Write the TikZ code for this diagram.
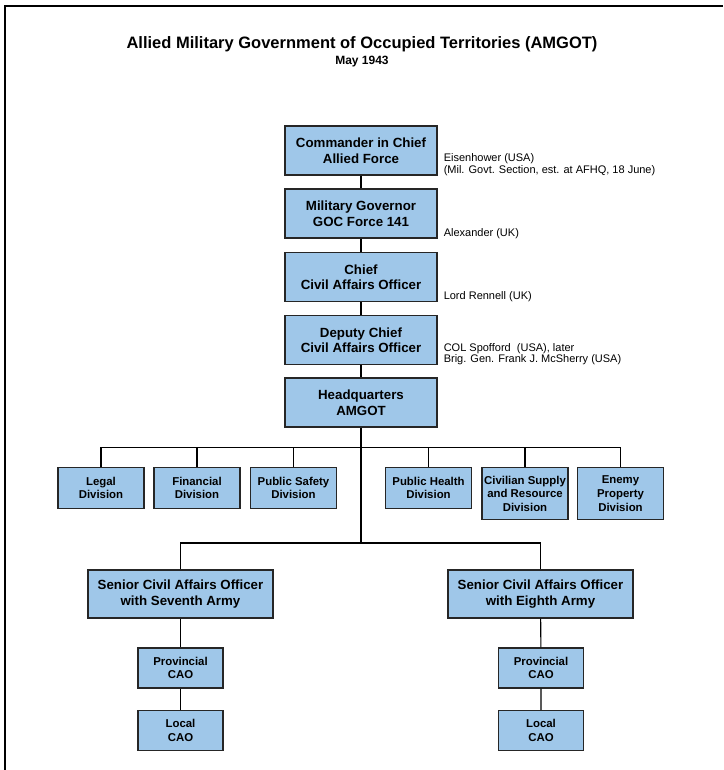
\documentclass[tikz,border=0pt]{standalone}
\usepackage{fontspec}
\setmainfont{Liberation Sans}
\definecolor{boxblue}{RGB}{159,199,233}
\begin{document}
\begin{tikzpicture}[x=1pt,y=-1pt,
  box/.style={draw=black!85,line width=1.1pt,fill=boxblue,align=center,inner sep=0pt,
    font=\bfseries\fontsize{13.3}{15.5}\selectfont},
  top/.style={box,minimum width=152pt,minimum height=49pt},
  div/.style={box,minimum width=86pt,minimum height=41pt,anchor=north,
    font=\bfseries\fontsize{11.4}{13.6}\selectfont},
  sao/.style={box,minimum width=185pt,minimum height=48pt},
  cao/.style={box,minimum width=85pt,minimum height=40pt,
    font=\bfseries\fontsize{11.4}{13.4}\selectfont},
  who/.style={anchor=south west,inner sep=0pt,align=left,xshift=6pt,
    font=\fontsize{11}{11.5}\selectfont},
  link/.style={line width=1.1pt}]

\useasboundingbox (0,0) rectangle (723,770);
\draw[line width=2pt] (5,770) -- (5,6) -- (723,6);

\node[anchor=base,font=\bfseries\fontsize{16.5}{20}\selectfont] (title) at (362,49)
  {Allied Military Government of Occupied Territories (AMGOT)};
\node[anchor=base,font=\bfseries\fontsize{12}{14}\selectfont] (date) at (362,65) {May 1943};

\node[top] (cinc)  at (361,150.5) {Commander in Chief\\Allied Force};
\node[top] (gov)   at (361,213.5) {Military Governor\\GOC Force 141};
\node[top] (ccao)  at (361,277)   {Chief\\Civil Affairs Officer};
\node[top] (dccao) at (361,340)   {Deputy Chief\\Civil Affairs Officer};
\node[top] (hq)    at (361,402.5) {Headquarters\\AMGOT};

\node[who] (ike)      at (cinc.south east)  {Eisenhower (USA)\\(Mil. Govt. Section, est. at AFHQ, 18 June)};
\node[who] (alex)     at (gov.south east)   {Alexander (UK)};
\node[who] (rennell)  at (ccao.south east)  {Lord Rennell (UK)};
\node[who] (spofford) at (dccao.south east) {COL Spofford\ \ (USA), later\\Brig. Gen. Frank J. McSherry (USA)};

\node[div] (legal)  at (101,467)   {Legal\\Division};
\node[div] (fin)    at (197,467)   {Financial\\Division};
\node[div] (safety) at (293.5,467) {Public Safety\\Division};
\node[div] (health) at (428.5,467) {Public Health\\Division};
\node[div,minimum height=52pt] (supply) at (525,467)   {Civilian Supply\\and Resource\\Division};
\node[div,minimum height=52pt] (enemy)  at (620.5,467) {Enemy\\Property\\Division};

\node[sao] (sev) at (180.5,594) {Senior Civil Affairs Officer\\with Seventh Army};
\node[sao] (eig) at (540.5,594) {Senior Civil Affairs Officer\\with Eighth Army};
\node[cao] (prov1)  at (180.5,668)   {Provincial\\CAO};
\node[cao] (local1) at (180.5,730.5) {Local\\CAO};
\node[cao] (prov2)  at (541,668)     {Provincial\\CAO};
\node[cao] (local2) at (541,730.5)   {Local\\CAO};

\coordinate (bus)  at (361,447.5);
\coordinate (fork) at (361,543);

\draw[link] (cinc) -- (gov) -- (ccao) -- (dccao) -- (hq) -- (fork);
\draw[link] (legal) |- (bus) -| (enemy);
\foreach \d in {fin,safety,health,supply}
  \draw[link] (\d) -- (\d |- bus);
\draw[link] (sev) |- (fork) -| (eig);
\draw[link] (sev) -- (prov1) -- (local1);
\draw[link] (eig) -- (prov2) -- (local2);

\end{tikzpicture}
\end{document}
